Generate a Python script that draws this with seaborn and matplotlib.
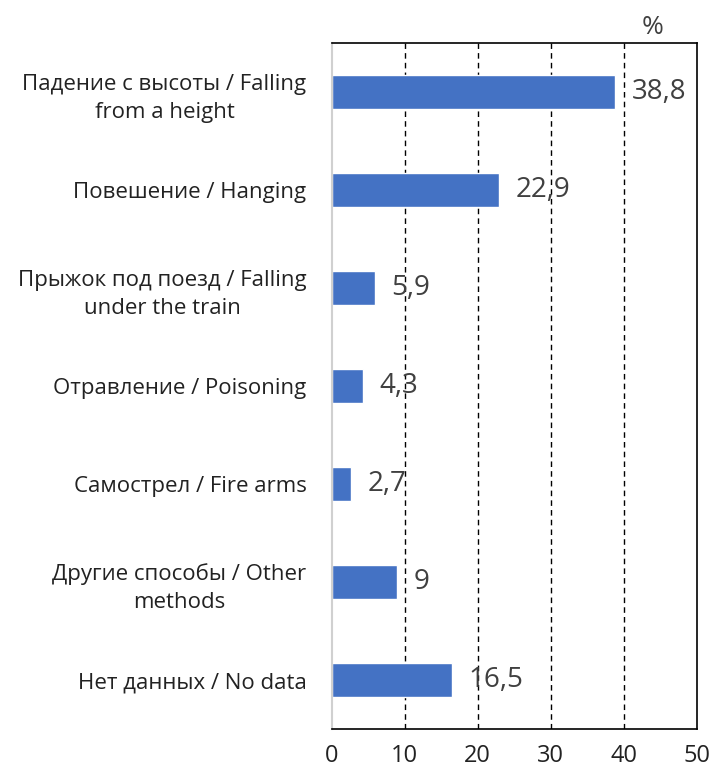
import matplotlib
matplotlib.use("Agg")
import matplotlib.pyplot as plt
import seaborn as sns
import pandas as pd

# categories and values (%)
methods = ["Падение с высоты / Falling\nfrom a height",
           "Повешение / Hanging",
           "Прыжок под поезд / Falling\nunder the train",
           "Отравление / Poisoning",
           "Самострел / Fire arms",
           "Другие способы / Other\nmethods",
           "Нет данных / No data"]
values = [38.8, 22.9, 5.9, 4.3, 2.7, 9, 16.5]
value_labels = ["38,8", "22,9", "5,9", "4,3", "2,7", "9", "16,5"]
xticks = [0, 10, 20, 30, 40, 50]

df = pd.DataFrame({"method": methods, "value": values})

sns.set_style("white")
plt.rcParams['font.family'] = ['Open Sans', 'DejaVu Sans']

fig = plt.figure(figsize=(7.13, 7.69), dpi=100)
ax = fig.add_axes([0.465, 0.052, 0.5126, 0.892])

sns.barplot(data=df, x="value", y="method", orient="h", color="#4472C4",
            width=0.35, saturation=1, ax=ax)

ax.set_xlim(0, 50)
ax.set_xticks(xticks)
ax.set_xticklabels([str(t) for t in xticks], fontsize=17, color="#222222")
ax.set_xlabel("")
ax.set_ylabel("")
ax.tick_params(axis="x", length=0, pad=11)
ax.tick_params(axis="y", length=0, pad=18)
for lab in ax.get_yticklabels():
    lab.set_fontsize(16)
    lab.set_multialignment("center")
    lab.set_linespacing(1.45)
    lab.set_color("#222222")

# dashed vertical gridlines
for t in xticks[1:-1]:
    ax.axvline(t, color="black", linestyle=(0, (4, 3)), linewidth=1, zorder=0)

for side in ["top", "right", "bottom"]:
    ax.spines[side].set_color("black")
    ax.spines[side].set_linewidth(1.2)
ax.spines["left"].set_color("#d0d0d0")
ax.spines["left"].set_linewidth(1.5)

for bar, txt in zip(ax.patches, value_labels):
    ax.annotate(txt, (bar.get_width(), bar.get_y() + bar.get_height() / 2),
                xytext=(12, 0), textcoords="offset points", va="center",
                ha="left", fontsize=20, color="#404040")

fig.text(653 / 713, 1 - 27 / 769, "%", fontsize=19, color="#404040",
         ha="center", va="center")

fig.savefig("out.png", dpi=100)
